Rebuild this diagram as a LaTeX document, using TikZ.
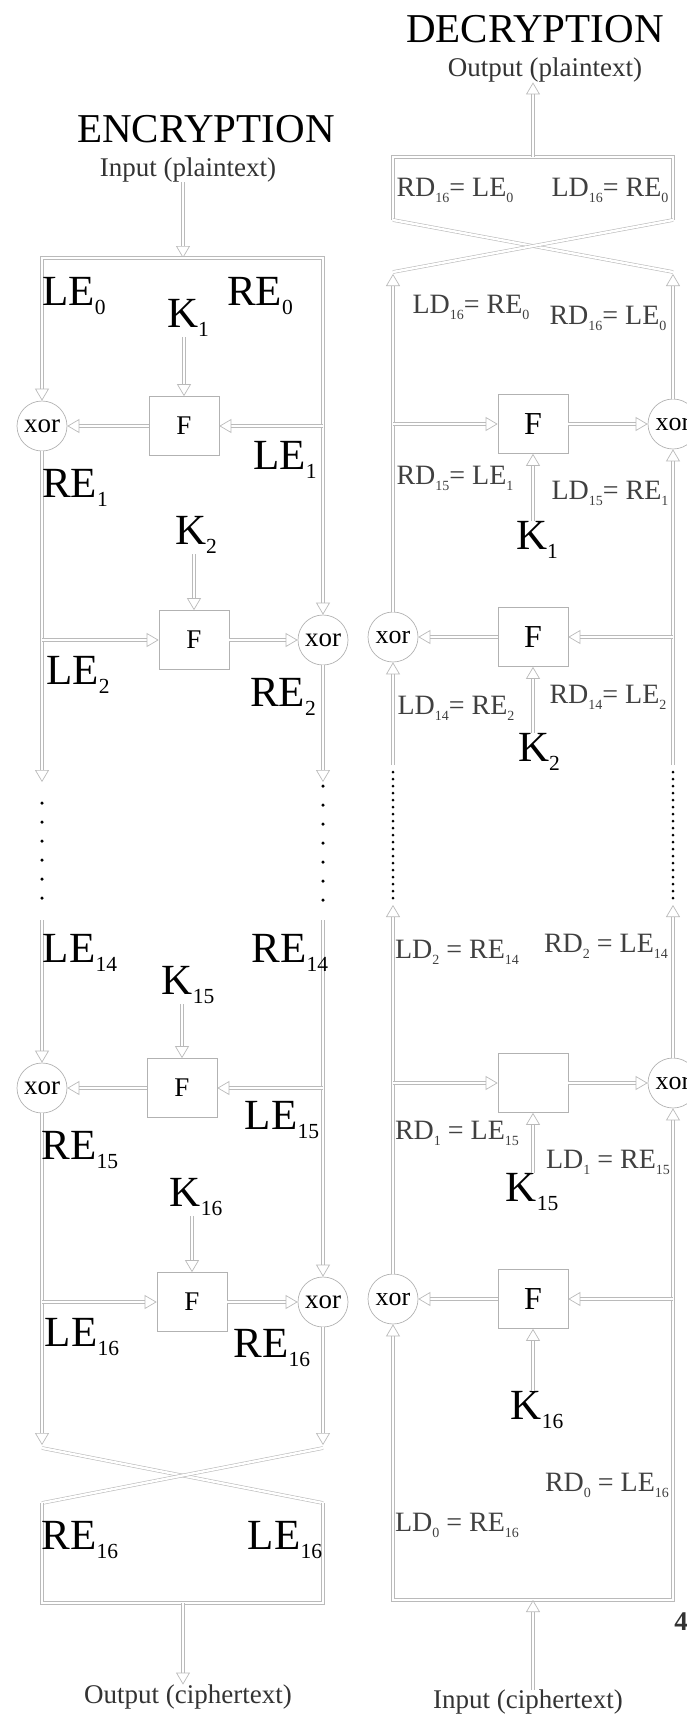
\documentclass[tikz,border=0pt]{standalone}
\usepackage{fontspec}
\setmainfont{Liberation Serif}
\usepackage{graphicx}
\usetikzlibrary{arrows.meta,calc}

\newcommand\sbs[1]{\raisebox{-0.22em}{\scalebox{0.5}{#1}}}
\tikzset{
  pipe/.style={draw=black!27, line width=0.6pt, double=white, double distance=2.4pt},
  tip/.tip={Triangle[open, length=12pt, width=14pt, line width=0.7pt]},
  flow/.style={pipe, -tip},
  flowboth/.style={pipe, tip-tip},
  fnbox/.style={draw=black!30, line width=0.7pt, minimum width=70pt, minimum height=59pt, inner sep=0pt, font=\fontsize{27}{27}\selectfont},
  xorc/.style={draw=black!30, line width=0.7pt, circle, minimum size=50pt, inner sep=0pt, font=\fontsize{27}{27}\selectfont},
  big/.style={inner sep=0pt, font=\fontsize{43}{43}\selectfont},
  eqn/.style={inner sep=0pt, text=black!75, font=\fontsize{28}{28}\selectfont},
  caption/.style={inner sep=0pt, text=black!80, font=\fontsize{27}{27}\selectfont},
  title/.style={inner sep=0pt, font=\fontsize{41}{41}\selectfont},
  pdot/.style={circle, fill=black, inner sep=0pt, minimum size=3.5pt},
}

\begin{document}
\begin{tikzpicture}[x=1pt,y=-1pt]
    \path[use as bounding box, clip] (0,0) rectangle (687,1719);
    % encryption
    \node[title] (enc) at (206,129) {ENCRYPTION};
    \node[caption] (inp) at (188,170) {Input (plaintext)};
    \coordinate (el) at (42,0);
    \coordinate (er) at (323,0);
    \coordinate (etr) at (323,258);
    \coordinate (etop) at (183,258);
    \node[xorc] (xe1) at (42,426) {xor};
    \node[fnbox] (fe1) at (184,426) {F};
    \node[big] (ke1) at (188,318) {K\sbs{1}};
    \node[fnbox] (fe2) at (194,640) {F};
    \node[xorc] (xe2) at (323,640) {xor};
    \node[big] (ke2) at (196,535) {K\sbs{2}};
    \node[fnbox] (fe15) at (182,1088) {F};
    \node[xorc] (xe15) at (42,1088) {xor};
    \node[big] (ke15) at (188,985) {K\sbs{15}};
    \node[fnbox] (fe16) at (192,1302) {F};
    \node[xorc] (xe16) at (323,1302) {xor};
    \node[big] (ke16) at (196,1197) {K\sbs{16}};
    \draw[flow] (inp.south -| etop) -- (etop);
    \draw[flowboth] (xe1.north) |- (etr) -- (xe2.north);
    \draw[flow] (fe1.east -| er) -- (fe1.east);
    \draw[flow] (fe1.west) -- (xe1.east);
    \draw[flow] (fe1.north |- ke1.south) -- (fe1.north);
    \draw[flow] (xe1.south) -- (42,782);
    \draw[flow] (fe2.west -| el) -- (fe2.west);
    \draw[flow] (fe2.east) -- (xe2.west);
    \draw[flow] (fe2.north |- ke2.south) -- (fe2.north);
    \draw[flow] (xe2.south) -- (323,782);
    \foreach \y in {803,822,...,903} \node[pdot] at (42,\y) {};
    \foreach \y in {786,805,...,903} \node[pdot] at (323,\y) {};
    \draw[flow] (42,920) -- (xe15.north);
    \draw[flow] (323,920) -- (xe16.north);
    \draw[flow] (fe15.east -| er) -- (fe15.east);
    \draw[flow] (fe15.west) -- (xe15.east);
    \draw[flow] (fe15.north |- ke15.south) -- (fe15.north);
    \draw[flow] (xe15.south) -- (42,1445);
    \draw[flow] (fe16.west -| el) -- (fe16.west);
    \draw[flow] (fe16.east) -- (xe16.west);
    \draw[flow] (fe16.north |- ke16.south) -- (fe16.north);
    \draw[flow] (xe16.south) -- (323,1445);
    \draw[pipe] (42,1448) -- (323,1503);
    \draw[pipe] (323,1448) -- (42,1503);
    \draw[pipe] (42,1503) -- (42,1603) -- (323,1603) -- (323,1503);
    \node[caption] (outc) at (188,1697) {Output (ciphertext)};
    \coordinate (ebot) at (183,1603);
    \draw[flow] (ebot) -- (ebot |- outc.north);
    \node[big] at (74,296) {LE\sbs{0}};
    \node[big] at (260,296) {RE\sbs{0}};
    \node[big] at (285,460) {LE\sbs{1}};
    \node[big] at (75,488) {RE\sbs{1}};
    \node[big] at (78,675) {LE\sbs{2}};
    \node[big] at (283,697) {RE\sbs{2}};
    \node[big] at (80,953) {LE\sbs{14}};
    \node[big] at (290,953) {RE\sbs{14}};
    \node[big] at (282,1120) {LE\sbs{15}};
    \node[big] at (80,1150) {RE\sbs{15}};
    \node[big] at (82,1337) {LE\sbs{16}};
    \node[big] at (272,1348) {RE\sbs{16}};
    \node[big] at (80,1540) {RE\sbs{16}};
    \node[big] at (285,1540) {LE\sbs{16}};
    % decryption
    \node[title] (dec) at (535,29) {DECRYPTION};
    \node[caption] (outp) at (545,70) {Output (plaintext)};
    \coordinate (dl) at (393,0);
    \coordinate (dr) at (673,0);
    \coordinate (dtop) at (533,157);
    \draw[pipe] (393,220) -- (393,157) -- (673,157) -- (673,220);
    \draw[flow] (dtop) -- (dtop |- outp.south);
    \draw[pipe] (393,220) -- (673,272);
    \draw[pipe] (673,220) -- (393,272);
    \node[fnbox, font=\fontsize{32}{32}\selectfont] (fd1) at (533,424) {F};
    \node[xorc, font=\fontsize{26}{26}\selectfont] (xd1) at (673,424) {xor};
    \node[big] (kd1) at (537,540) {K\sbs{1}};
    \node[fnbox, font=\fontsize{32}{32}\selectfont] (fd2) at (533,637) {F};
    \node[xorc, font=\fontsize{26}{26}\selectfont] (xd2) at (393,637) {xor};
    \node[big] (kd2) at (539,752) {K\sbs{2}};
    \node[fnbox] (fd15) at (533,1083) {};
    \node[xorc, font=\fontsize{26}{26}\selectfont] (xd15) at (673,1083) {xor};
    \node[big] (kd15) at (532,1192) {K\sbs{15}};
    \node[fnbox, font=\fontsize{32}{32}\selectfont] (fd16) at (533,1299) {F};
    \node[xorc, font=\fontsize{26}{26}\selectfont] (xd16) at (393,1299) {xor};
    \node[big] (kd16) at (537,1410) {K\sbs{16}};
    \coordinate (dbr) at (673,1600);
    \draw[flow] (xd2.north) -- (393,274);
    \draw[flow] (xd1.north) -- (673,274);
    \draw[flow] (fd1.west -| dl) -- (fd1.west);
    \draw[flow] (fd1.east) -- (xd1.west);
    \draw[flow] (fd1.south |- kd1.north) -- (fd1.south);
    \draw[flow] (673,765) -- (xd1.south);
    \draw[flow] (fd2.east -| dr) -- (fd2.east);
    \draw[flow] (fd2.west) -- (xd2.east);
    \draw[flow] (fd2.south |- kd2.north) -- (fd2.south);
    \draw[flow] (393,765) -- (xd2.south);
    \foreach \y in {772,779,...,902} {
        \node[pdot, minimum size=3pt] at (393,\y) {};
        \node[pdot, minimum size=3pt] at (673,\y) {};
    }
    \draw[flow] (xd16.north) -- (393,905);
    \draw[flow] (xd15.north) -- (673,905);
    \draw[flow] (fd15.west -| dl) -- (fd15.west);
    \draw[flow] (fd15.east) -- (xd15.west);
    \draw[flow] (fd15.south |- kd15.north) -- (fd15.south);
    \draw[flowboth] (xd16.south) |- (dbr) -- (xd15.south);
    \draw[flow] (fd16.east -| dr) -- (fd16.east);
    \draw[flow] (fd16.west) -- (xd16.east);
    \draw[flow] (fd16.south |- kd16.north) -- (fd16.south);
    \node[caption] (inc) at (528,1702) {Input (ciphertext)};
    \coordinate (dbot) at (533,1600);
    \draw[flow] (dbot |- inc.north) -- (dbot);
    \node[eqn] at (455,190) {RD\sbs{16}= LE\sbs{0}};
    \node[eqn] at (610,190) {LD\sbs{16}= RE\sbs{0}};
    \node[eqn] at (471,307) {LD\sbs{16}= RE\sbs{0}};
    \node[eqn] at (608,318) {RD\sbs{16}= LE\sbs{0}};
    \node[eqn] at (455,478) {RD\sbs{15}= LE\sbs{1}};
    \node[eqn] at (610,493) {LD\sbs{15}= RE\sbs{1}};
    \node[eqn] at (456,708) {LD\sbs{14}= RE\sbs{2}};
    \node[eqn] at (608,697) {RD\sbs{14}= LE\sbs{2}};
    \node[eqn] at (457,952) {LD\sbs{2} = RE\sbs{14}};
    \node[eqn] at (606,946) {RD\sbs{2} = LE\sbs{14}};
    \node[eqn] at (457,1133) {RD\sbs{1} = LE\sbs{15}};
    \node[eqn] at (608,1162) {LD\sbs{1} = RE\sbs{15}};
    \node[eqn] at (607,1485) {RD\sbs{0} = LE\sbs{16}};
    \node[eqn] at (457,1525) {LD\sbs{0} = RE\sbs{16}};
    \node[caption, font=\bfseries\fontsize{27}{27}\selectfont] at (681,1622) {4};
\end{tikzpicture}
\end{document}
